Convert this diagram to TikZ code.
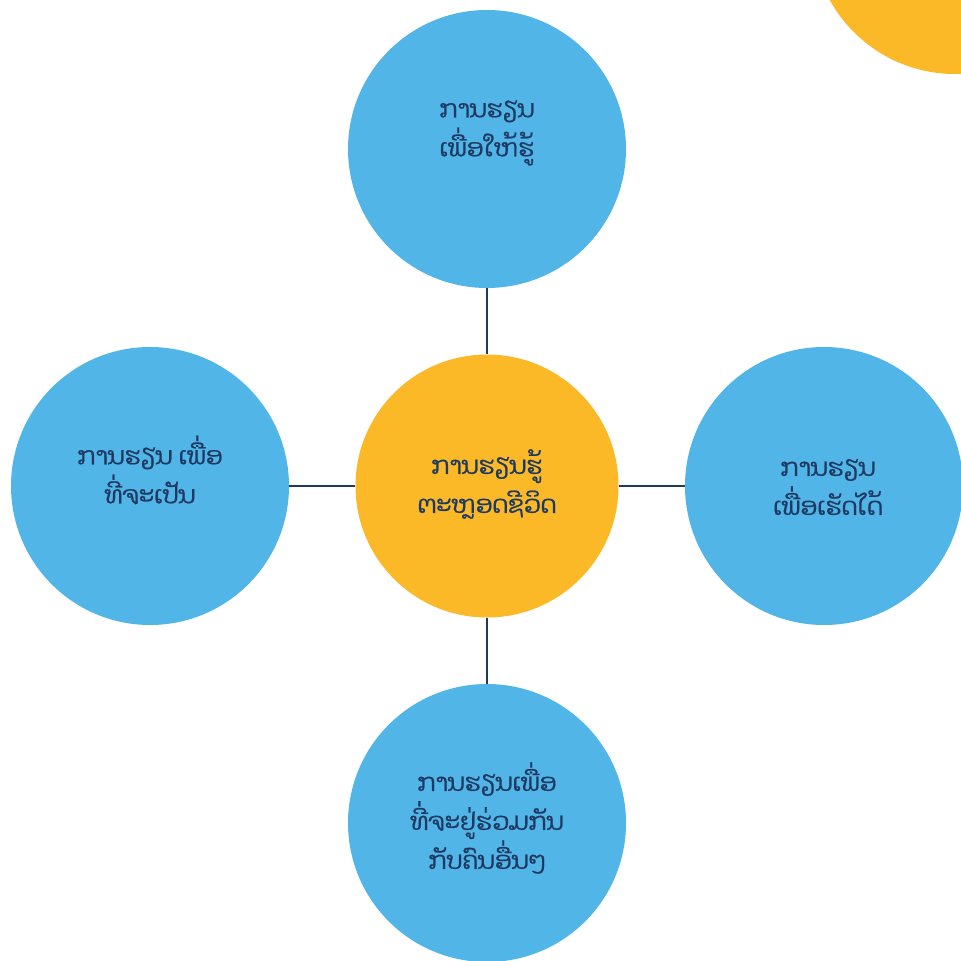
\documentclass[tikz,border=0pt]{standalone}
\usepackage{fontspec}
\newfontfamily\laofont[Script=Lao,FakeBold=0.8]{Dhyana}
\definecolor{skyblue}{HTML}{52B5E8}
\definecolor{sunorange}{HTML}{FBB827}
\definecolor{navy}{HTML}{1E3A62}
\begin{document}
\begin{tikzpicture}[x=1pt,y=-1pt,
  bubble/.style={circle,fill=skyblue,draw=none,minimum size=278pt,inner sep=0pt},
  hub/.style={circle,fill=sunorange,draw=none,minimum size=263pt,inner sep=0pt},
  caption/.style={align=center,text=navy,font=\laofont\fontsize{24.5}{39}\selectfont,inner sep=0pt},
  link/.style={draw=navy,line width=2pt}]
\useasboundingbox (0,0) rectangle (961,961);
% decorative corner disc
\fill[sunorange] (955,-69) circle (143);
% circles
\node[bubble] (top) at (487,149) {};
\node[bubble] (left) at (150,486) {};
\node[bubble] (right) at (824,486) {};
\node[bubble] (bottom) at (487,823) {};
\node[hub] (mid) at (487,486) {};
% connectors
\draw[link] (top) -- (mid);
\draw[link] (left) -- (mid);
\draw[link] (mid) -- (right);
\draw[link] (mid) -- (bottom);
% labels
\node[caption] (ttop) at (487,133) {ການຮຽນ\\ເພື່ອໃຫ້ຮູ້};
\node[caption] (tleft) at (150,470) {ການຮຽນ ເພື່ອ\\ທີ່ຈະເປັນ};
\node[caption] (tmid) at (487,484) {ການຮຽນຮູ້\\ຕະຫຼອດຊີວິດ};
\node[caption] (tright) at (828,487) {ການຮຽນ\\ເພື່ອເຮັດໄດ້};
\node[caption] (tbottom) at (487,818) {ການຮຽນເພື່ອ\\ທີ່ຈະຢູ່ຮ່ວມກັນ\\ກັບຄົນອື່ນໆ};
\end{tikzpicture}
\end{document}
